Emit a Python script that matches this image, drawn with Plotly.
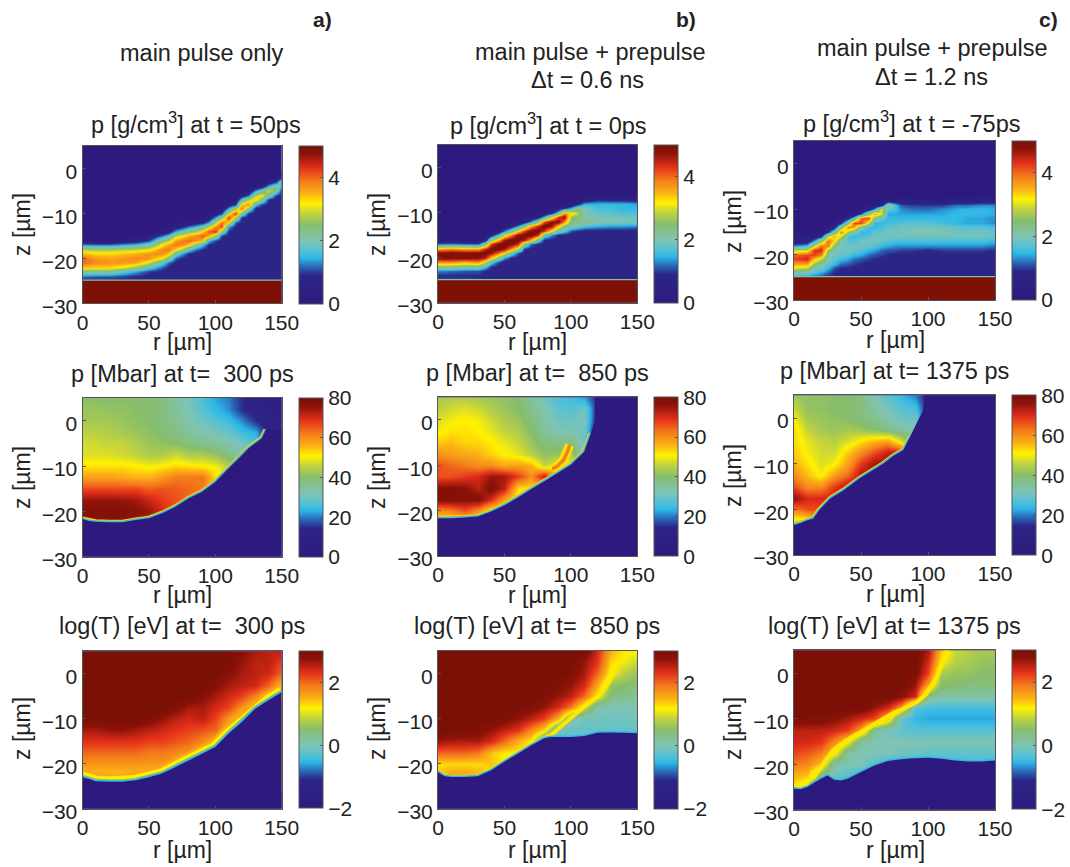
import plotly.graph_objects as go

W, H = 1070, 867
R_COLS = [0, 10, 20, 30, 40, 50, 60, 70, 80, 90, 100, 110, 120, 130, 140, 150]
RHO_A_R = [0,10,20,30,40,50,60,65,70,75,80,85,90,95,100,105,110,115,120,125,130,135,140,145,150]
RHO_B_R = [0,10,20,30,35,40,45,50,55,60,65,70,75,80,85,90,95,100,105,110,120,130,140,150]
RHO_C_R = [0,5,10,15,20,25,30,35,40,45,50,55,60,65,70,75,80,90,100,110,120,130,140,150]
RHO_Z = [-float(i) for i in range(1, 26)]
GRID_Z = [5, 2.5, 0, -2.5, -5, -7.5, -10, -12.5, -15, -17.5, -20, -22.5, -25]

# density x10, one list per r column, z = -1 ... -25
rho_a = [
 [0]*15+[2,13,28,35,40,40,34,22,12,9],
 [0]*15+[1,12,27,33,37,38,33,22,11,9],
 [0]*15+[1,12,27,33,36,37,33,22,11,9],
 [0]*15+[2,14,28,34,37,37,30,18,10,9],
 [0]*14+[1,5,16,29,35,38,36,26,14,9,9],
 [0]*14+[3,10,20,31,37,37,30,18,10,8,8],
 [0]*13+[2,12,24,32,38,38,30,18,11,8,8,8],
 [0]*12+[1,6,17,28,36,39,34,22,12]+[8]*4,
 [0]*11+[1,5,15,28,36,39,33,20,11]+[8]*5,
 [0]*10+[1,3,8,19,31,39,38,26,14,8]+[8]*5,
 [0]*10+[1,4,12,24,35,40,34,18,9]+[8]*6,
 [0]*10+[1,6,15,27,38,38,24,12,8]+[8]*6,
 [0]*10+[2,8,20,33,41,34,16,9]+[8]*7,
 [0]*9+[1,4,14,28,41,36,16,9]+[8]*8,
 [0]*9+[5,14,28,38,43,26,10]+[8]*9,
 [0]*8+[2,10,24,40,42,24,10]+[8]*10,
 [0]*7+[5,15,31,43,32,14,9]+[8]*11,
 [0]*6+[2,10,26,43,28,11,8]+[8]*12,
 [0]*5+[6,18,34,40,22,9]+[8]*14,
 [0]*4+[2,12,28,38,22,9]+[8]*15,
 [0]*3+[2,14,28,35,16,8]+[8]*16,
 [0]*3+[6,20,32,24,10]+[8]*17,
 [0]*2+[4,16,30,22,9]+[8]*18,
 [0]*2+[8,24,24,10]+[8]*19,
 [0]*1+[8,22,16,8]+[8]*20,
]
rho_b = [
 [0]*15+[2,12,36,48,49,38,24,13,9,11],
 [0]*15+[2,13,38,49,49,38,24,12,9,11],
 [0]*15+[1,12,36,49,49,36,22,11,9,11],
 [0]*15+[1,11,36,49,48,38,22,11,9,10],
 [0]*14+[1,6,22,44,50,45,30,16,9,8,9],
 [0]*13+[1,6,24,42,50,47,34,18,9,8,8,9],
 [0]*13+[2,16,34,49,50,40,24,11,8,8,8,8],
 [0]*12+[2,12,28,46,50,47,33,14,8]+[8]*4,
 [0]*11+[1,6,20,38,50,49,38,20,9]+[8]*5,
 [0]*11+[2,13,32,48,50,44,28,11]+[8]*6,
 [0]*10+[1,6,22,42,50,46,24,10]+[8]*7,
 [0]*10+[2,14,36,49,50,36,12]+[8]*8,
 [0]*9+[1,6,24,44,50,44,20,9]+[8]*8,
 [0]*9+[2,15,42,50,44,20,9]+[8]*9,
 [0]*8+[1,7,28,48,48,32,14,8]+[8]*9,
 [0]*8+[3,18,42,49,34,22,9]+[8]*10,
 [0]*7+[1,8,36,48,38,24,18,8]+[8]*10,
 [0]*7+[3,14,33,26,23,21,11]+[8]*11,
 [0]*6+[1,8,22,28,24,23,20,9]+[8]*11,
 [0]*6+[2,15,20,19,21,23,17,8]+[8]*11,
 [0]*6+[8,15,16,18,20,21,15,8]+[8]*11,
 [0]*6+[7,15,16,17,19,20,14,8]+[8]*11,
 [0]*6+[7,15,15,16,19,20,14,8]+[8]*11,
 [0]*6+[6,14,15,16,18,19,13,8]+[8]*11,
]
rho_c = [
 [0]*16+[3,14,28,40,42,36,30,20,14],
 [0]*15+[1,4,15,29,41,43,36,29,19,13],
 [0]*15+[1,6,16,30,42,44,36,28,18,12],
 [0]*14+[1,4,14,30,43,42,34,26,20,16,11],
 [0]*14+[1,8,25,40,44,38,28,22,19,14,10],
 [0]*13+[2,10,28,40,38,26,21,20,18,15,11,9],
 [0]*12+[1,7,20,35,33,24,20,19,18,15,11,9,9],
 [0]*11+[1,10,24,38,30,20,19,19,18,15,12,9,8,8],
 [0]*10+[1,8,24,38,27,16,17,19,19,17,14,11,9,8,8],
 [0]*10+[3,18,42,36,20,15,17,19,18,15,12,10,8,8,8],
 [0]*9+[2,12,40,42,20,15,16,19,19,17,14,11,9,8,8,8],
 [0]*8+[1,6,24,42,30,16,15,17,19,18,15,12,10,8,8,8,8],
 [0]*8+[2,13,36,24,15,15,17,19,19,17,14,11,9]+[8]*4,
 [0]*8+[6,30,30,18,15,16,18,19,18,15,12,10]+[8]*5,
 [0]*7+[2,24,18,14,15,16,18,19,19,17,14,11,9]+[8]*5,
 [0]*7+[4,16,16,14,15,16,18,19,19,16,13,11]+[8]*6,
 [0]*7+[4,11,13,14,15,17,19,19,19,16,13,10]+[8]*6,
 [0]*7+[3,10,12,14,15,17,19,20,19,16,13,10]+[8]*6,
 [0]*7+[3,10,12,14,15,17,19,20,19,16,13,9]+[8]*6,
 [0]*7+[3,10,13,14,15,16,19,20,19,16,13,10]+[8]*6,
 [0]*7+[4,12,14,15,15,15,18,19,19,16,13,10]+[8]*6,
 [0]*7+[4,12,15,15,14,14,17,19,19,16,13,10]+[8]*6,
 [0]*7+[5,13,15,15,14,14,17,19,19,16,13,10]+[8]*6,
 [0]*7+[5,13,14,14,13,13,16,18,18,15,12,9]+[8]*6,
]
target_r = [0, 150, 150, 0]
target_z = [-25, -25, -30, -30]

# pressure in Mbar, one list per z row in GRID_Z, r = 0 ... 150
p_a = [
 [40,40,40,40,40,39,38,34,31,26,22,20,15,11,10,10],
 [42,42,41,41,40,40,38,35,32,27,24,21,15,11,10,10],
 [43,43,43,42,41,40,38,36,33,30,27,25,21,15,11,10],
 [45,45,44,43,42,41,39,37,35,33,31,29,25,23,11,10],
 [47,47,46,46,44,42,41,40,38,36,35,33,31,26,10,10],
 [48,48,48,47,46,44,44,47,44,44,42,38,32,26,10,10],
 [52,52,52,52,51,50,51,53,52,51,50,44,36,30,10,10],
 [58,58,58,57,56,56,59,62,62,63,52,50,40,30,10,10],
 [67,67,67,67,67,65,66,65,64,62,52,50,40,30,10,10],
 [75,75,75,75,74,71,68,66,64,62,52,50,40,30,10,10],
 [78,78,78,78,77,75,70,66,64,62,52,50,40,30,10,10],
 [77,77,77,77,74,72,70,66,64,62,52,50,40,30,10,10],
 [75,75,75,75,74,72,70,66,64,62,52,50,40,30,10,10],
]
p_b = [
 [43,44,44,43,42,41,40,34,30,26,25,22,14,10,9,9],
 [45,47,48,47,44,42,40,36,33,28,27,30,14,9,9,9],
 [48,50,51,50,47,44,42,38,34,30,30,32,12,9,9,9],
 [50,52,52,51,49,46,44,40,35,32,32,30,9,9,9,9],
 [54,55,53,53,51,49,46,42,38,37,38,30,9,9,9,9],
 [60,58,57,56,53,51,49,45,41,42,44,30,9,9,9,9],
 [66,64,62,60,60,57,58,56,46,50,50,30,9,9,9,9],
 [66,66,68,70,75,74,68,60,72,55,50,30,9,9,9,9],
 [77,78,76,72,78,72,52,52,52,52,50,30,9,9,9,9],
 [78,78,77,78,70,58,50,50,50,50,50,30,9,9,9,9],
 [60,62,66,60,50,50,50,50,50,50,50,30,9,9,9,9],
 [50,50,50,50,50,50,50,50,50,50,50,30,9,9,9,9],
 [50,50,50,50,50,50,50,50,50,50,50,30,9,9,9,9],
]
p_c = [
 [42,41,41,40,40,38,32,27,24,20,12,9,9,9,9,9],
 [46,41,41,40,40,38,34,31,27,25,12,9,9,9,9,9],
 [50,43,42,41,40,38,36,33,30,30,12,9,9,9,9,9],
 [53,46,43,42,43,42,40,37,34,32,12,9,9,9,9,9],
 [53,49,46,45,48,52,56,58,48,33,12,9,9,9,9,9],
 [54,50,47,47,54,60,66,72,72,33,12,9,9,9,9,9],
 [56,52,48,50,58,68,74,76,72,33,12,9,9,9,9,9],
 [60,55,50,58,64,74,76,76,72,33,12,9,9,9,9,9],
 [66,60,60,68,74,76,76,76,72,33,12,9,9,9,9,9],
 [76,70,70,72,74,76,76,76,72,33,12,9,9,9,9,9],
 [62,66,66,68,72,76,76,76,72,33,12,9,9,9,9,9],
 [48,50,60,68,72,76,76,76,72,33,12,9,9,9,9,9],
 [40,44,60,68,72,76,76,76,72,33,12,9,9,9,9,9],
]

# log(T) x10, one list per z row in GRID_Z, r = 0 ... 150
t_a = [
 [30]*12+[28,26,25,25],
 [30]*11+[29,27,25,25,22],
 [30]*11+[28,26,25,24,20],
 [30]*10+[28,26,25,24,20,14],
 [30]*9+[28,26,24,22,18,13,12],
 [30]*7+[29,26,26,24,22,17,12,12,12],
 [30]*5+[29,27,25,24,25,22,17,12,12,12,12],
 [26,26,27,27,26,25,24,23,22,21,20,13,12,12,12,12],
 [23,23,23,23,23,22,22,21,20,18,14,12,12,12,12,12],
 [20,20,20,20,20,19,19,18,17,13,12,12,12,12,12,12],
 [17,17,17,17,17,17,17,15,12,12,12,12,12,12,12,12],
 [14,14,14,14,14,14,12,12,12,12,12,12,12,12,12,12],
 [12]*16,
]
t_b = [
 [30]*12+[24,15,12,12],
 [30]*11+[27,23,13,11,9],
 [30]*10+[29,26,20,11,8,6],
 [30]*9+[29,27,24,16,6,5,4],
 [30]*8+[29,27,25,20,12,4,3,2],
 [30]*7+[29,27,24,19,10,1,0,0,0],
 [30]*5+[29,27,25,22,15,1,-1,-1,-1,-1,-1],
 [30,30,30,29,27,25,23,18,13,-1,-2,-2,-2,-2,-2,-2],
 [27,26,26,26,24,20,15,12,0,-2,-2,-2,-2,-2,-2,-2],
 [20,20,20,19,14,12,12,12,0,-2,-2,-2,-2,-2,-2,-2],
 [13,13,13,13,14,12,12,12,0,-2,-2,-2,-2,-2,-2,-2],
 [14,16,16,15,12,12,12,12,0,-2,-2,-2,-2,-2,-2,-2],
 [12,12,12,12,12,12,12,12,0,-2,-2,-2,-2,-2,-2,-2],
]
t_c = [
 [30]*10+[26,14,9,8,7,7],
 [30]*10+[24,12,8,7,6,6],
 [30]*9+[29,22,7,6,6,5,5],
 [30]*9+[27,16,5,5,4,4,4],
 [30]*8+[28,24,3,1,1,1,1,1],
 [30]*6+[27,24,17,-3,-4,-4,-4,-4,-4,-4],
 [30,29,29,28,26,24,22,14,-2,-5,-6,-6,-6,-6,-6,-6],
 [25,25,25,24,22,16,2,-1,-2,-3,-3,-3,-3,-3,-3,-3],
 [24,24,23,18,12,1,0,0,0,0,0,0,0,0,0,0],
 [22,21,19,13,1,0,0,0,-1,-1,-2,-2,-2,-2,-2,-2],
 [19,18,14,1,0,0,-3,-5,-5,-5,-5,-5,-5,-5,-5,-5],
 [15,14,3,-1,-3,-5,-5,-5,-5,-5,-5,-5,-5,-5,-5,-5],
 [12,10,-2,-5,-5,-5,-5,-5,-5,-5,-5,-5,-5,-5,-5,-5],
]

# shock fronts: the drawn edge, then where the cold region continues beyond it
pa_front_r = [0,5,10,20,30,40,50,60,70,80,90,100,110,120,125,130,135,138]
pa_front_z = [-21.7,-22.1,-22.3,-22.4,-22.4,-21.9,-21.5,-20.4,-19,-17.1,-15.7,-13.5,-10.5,-7.6,-6.1,-5,-3.9,-2]
pa_rest_r = [150]
pa_rest_z = [-2]
pb_front_r = [0,10,20,30,40,50,60,70,80,90,100,110,115]
pb_front_z = [-21.7,-21.7,-21.5,-21.3,-20.2,-18.8,-17.1,-15.3,-13.5,-11.7,-9.9,-7,-3]
pb_rest_r = [118,118,150]
pb_rest_z = [-0.2,5,5]
pc_front_r = [0,5,10,14.4,19,27,37,49,67,74,81.6,86.6]
pc_front_z = [-23.4,-23,-22.4,-22,-20.1,-17.6,-15.8,-13.2,-9.9,-8.3,-7,-4.1]
pc_rest_r = [91.5,96.5,97,150]
pc_rest_z = [-1.1,1.8,5,5]
pb_hook_r = [86,89.4,94.5,97.5,99]
pb_hook_z = [-10.8,-10.3,-8.8,-7,-5.5]
ta_front_r = [0,5,10,20,30,40,50,60,70,80,90,100,110,120,130,140,150]
ta_front_z = [-23,-23.4,-23.9,-24,-24,-23.7,-23,-22.2,-20.7,-19.3,-17.8,-16.3,-13.3,-10.7,-7.8,-5.9,-4.1]
tb_front_r = [0,5,10,20,30,40,50,60,70,80,85,100,110,120,130,140,150]
tb_front_z = [-21.9,-22.8,-23,-23,-22.8,-21.5,-19.6,-17.8,-16,-14.4,-14.1,-14.1,-13.9,-13.2,-13.1,-13.2,-13.3]
tb_hot_r = [0,5,10,20,30,40,50,60,70,80,85,97,110,122,129,136,140]
tb_hot_z = [-21.9,-22.8,-23,-23,-22.8,-21.5,-19.6,-17.8,-16,-14.4,-13.7,-10.7,-7.4,-4.8,-1.9,2.1,5]
tc_front_r = [0,5,10,15,20,25,30,35,40,50,60,70,80,90,100,110,120,130,140,150]
tc_front_z = [-25.4,-25.5,-25,-24.1,-23.2,-22.5,-23.4,-23.6,-23.2,-21.7,-20.3,-19.3,-18.9,-18.7,-18.6,-18.8,-19.2,-19.4,-19.4,-19.2]
tc_hot_r = [0,5,15,22,29,39,52,64,74,84,91.5,99,106,111,114.5]
tc_hot_z = [-25,-24.3,-22.8,-19.9,-17,-14.8,-12.6,-10.4,-8.8,-7.5,-6.4,-4.5,-1.2,2.1,5]

X_TICKS = [0, 50, 100, 150]
Y_TICKS = [0, -10, -20, -30]
RHO_TICKS = [0, 2, 4]
P_TICKS = [0, 20, 40, 60, 80]
T_TICKS = [-2, 0, 2]

INDIGO = "#2e1a7f"
DARKRED = "#7e1006"
TEXT = "#222222"
FONT = "Liberation Sans"
CMAP = [
 [0.00,"#2e1a7f"],[0.18,"#2c2686"],[0.23,"#2a60b2"],[0.29,"#2cb6e6"],[0.33,"#50c0d8"],
 [0.40,"#7fc4b4"],[0.50,"#86bd6c"],[0.58,"#c8d63a"],[0.635,"#fff200"],[0.70,"#fbb016"],
 [0.78,"#f47a1c"],[0.86,"#e4301a"],[0.95,"#8b1208"],[1.00,"#7a1006"],
]

# panel rectangles in pixels: left, right, top, bottom, colorbar left
RECTS = [
 (82.5,281.7,145.7,303.3,298.7),(438,637.3,145,302.7,654.3),(794,995,141,300,1012),
 (82.5,281.7,398,556.7,298.7),(438,637.3,397.3,556,654.3),(794,995,395.3,555,1012),
 (82.5,281.7,651.3,808.7,298.7),(438,637.3,650.7,808.7,654.3),(794,995,650.3,809.7,1012),
]

fig = go.Figure()

def px(x): return x / W
def py(y): return 1 - y / H

def text(x, y, s, size=22, angle=0, xanchor="center", bold=False):
    fig.add_annotation(xref="paper", yref="paper", x=px(x), y=py(y), text=f"<b>{s}</b>" if bold else s,
                       showarrow=False, xanchor=xanchor, yanchor="middle", textangle=angle,
                       font=dict(family=FONT, size=size, color=TEXT))

def panel(n, grid_r, grid_z, grid, lo, hi, ticks):
    l, r, t, b, c = RECTS[n]
    k = "" if n == 0 else str(n + 1)
    ax = dict(showgrid=False, zeroline=False, showline=True, mirror=True, linecolor="#555555", linewidth=1,
              ticks="inside", ticklen=3, tickcolor="#555555",
              tickfont=dict(family=FONT, size=21, color=TEXT))
    fig.layout["xaxis" + k] = dict(ax, domain=[px(l), px(r)], range=[0, 150], anchor="y" + k, tickvals=X_TICKS)
    fig.layout["yaxis" + k] = dict(ax, domain=[py(b), py(t)], range=[-30, 5], anchor="x" + k, tickvals=Y_TICKS,
                                   ticklabelshift=3)
    fig.add_trace(go.Heatmap(
        x=grid_r, y=grid_z[::-1], z=grid[::-1], zmin=lo, zmax=hi, zsmooth="best", colorscale=CMAP,
        xaxis="x" + k, yaxis="y" + k, hoverinfo="skip",
        colorbar=dict(x=px(c), xanchor="left", xpad=0, y=py(t), yanchor="top", ypad=0,
                      lenmode="pixels", len=b - t, thicknessmode="pixels", thickness=24,
                      outlinecolor="#555555", outlinewidth=1, tickvals=ticks, ticks="inside", ticklen=3,
                      tickcolor="#555555", tickfont=dict(family=FONT, size=21, color=TEXT))))
    return k

def stack(k, r, z, layers):
    for color, width in layers:
        fig.add_trace(go.Scatter(x=r, y=z, mode="lines", line=dict(color=color, width=width), xaxis="x" + k,
                                 yaxis="y" + k, showlegend=False, hoverinfo="skip"))

def solid(k, r, z, color):
    fig.add_trace(go.Scatter(x=r, y=z, mode="none", fill="toself", fillcolor=color, xaxis="x" + k,
                             yaxis="y" + k, showlegend=False, hoverinfo="skip"))

def under(k, r, z):
    solid(k, list(r) + [150, 0], list(z) + [-30, -30], INDIGO)

def rows_from_cols(cols, rs):
    assert len(cols) == len(rs)
    assert all(len(c) == len(RHO_Z) for c in cols)
    return [list(v) for v in zip(*cols)]

# density
for n, (cols, rs) in enumerate([(rho_a, RHO_A_R), (rho_b, RHO_B_R), (rho_c, RHO_C_R)]):
    k = panel(n, rs, RHO_Z, [[v / 10 for v in row] for row in rows_from_cols(cols, rs)], 0, 5, RHO_TICKS)
    stack(k, target_r[:2], target_z[:2], [("#7cc4a0", 2.5)])
    solid(k, target_r, target_z, DARKRED)

# pressure
P_EDGE = [("#ffd000", 5), ("#40bcd8", 3)]
for n, (grid, fr, fz, xr, xz) in enumerate([
        (p_a, pa_front_r, pa_front_z, pa_rest_r, pa_rest_z),
        (p_b, pb_front_r, pb_front_z, pb_rest_r, pb_rest_z),
        (p_c, pc_front_r, pc_front_z, pc_rest_r, pc_rest_z)]):
    assert all(len(row) == 16 for row in grid)
    k = panel(n + 3, R_COLS, GRID_Z, grid, 0, 80, P_TICKS)
    if n == 1:
        stack(k, pb_hook_r, pb_hook_z, [("#ffe000", 9), ("#f08020", 3.5)])
    stack(k, fr, fz, P_EDGE)
    under(k, fr + xr, fz + xz)

# temperature
HOT_THIN = [("#ffe800", 4)]
HOT_WIDE = [("#f9a81c", 16), ("#fff000", 11)]
T_EDGE = [("#8cc070", 5), ("#34b8e0", 3)]
LOW = [("#34b8e0", 3)]
for n, (grid, fr, fz, hr, hz, hot, low) in enumerate([
        (t_a, ta_front_r, ta_front_z, ta_front_r, ta_front_z, HOT_WIDE, T_EDGE),
        (t_b, tb_front_r, tb_front_z, tb_hot_r, tb_hot_z, HOT_THIN, LOW),
        (t_c, tc_front_r, tc_front_z, tc_hot_r, tc_hot_z, HOT_THIN, LOW)]):
    assert all(len(row) == 16 for row in grid)
    k = panel(n + 6, R_COLS, GRID_Z, [[v / 10 for v in row] for row in grid], -2, 3, T_TICKS)
    stack(k, hr, hz, hot)
    stack(k, fr, fz, low)
    under(k, fr, fz)

# titles
TITLES = ["p [g/cm<sup>3</sup>] at t = 50ps", "p [g/cm<sup>3</sup>] at t = 0ps", "p [g/cm<sup>3</sup>] at t = -75ps",
          "p [Mbar] at t=  300 ps", "p [Mbar] at t=  850 ps", "p [Mbar] at t= 1375 ps",
          "log(T) [eV] at t=  300 ps", "log(T) [eV] at t=  850 ps", "log(T) [eV] at t= 1375 ps"]
TITLE_POS = [(196,123),(548,124),(912,122),(182,374),(537,373),(894,371),(182,626),(537,626),(894,626)]
for s, (x, y) in zip(TITLES, TITLE_POS):
    text(x, y, s.replace("  ", "&nbsp; "), 23.5)

for x, y in [(182,342),(537,342),(895,340),(182,595),(537,595),(895,594),(182,850),(537,850),(895,850)]:
    text(x, y, "r [µm]", 23)
for x, y in [(22,225),(377,225),(733,222),(22,478),(377,478),(733,476),(22,729),(377,729),(733,729)]:
    text(x, y, "z [µm]", 23, angle=-90)

text(334, 19, "a)", 21, xanchor="right", bold=True)
text(698, 19, "b)", 21, xanchor="right", bold=True)
text(1060, 19, "c)", 21, xanchor="right", bold=True)
text(202, 53, "main pulse only", 23.5)
text(590, 52, "main pulse + prepulse", 23.5)
text(587, 80, "Δt = 0.6 ns", 23.5)
text(932, 48, "main pulse + prepulse", 23.5)
text(931, 77, "Δt = 1.2 ns", 23.5)

fig.update_layout(width=W, height=H, margin=dict(l=0, r=0, t=0, b=0, autoexpand=False), showlegend=False,
                  paper_bgcolor="white", plot_bgcolor=INDIGO, font=dict(family=FONT, color=TEXT))
fig.write_html("out.html", config={"displayModeBar": False},
               post_script="document.body.style.margin='0';document.body.style.overflow='hidden';")
